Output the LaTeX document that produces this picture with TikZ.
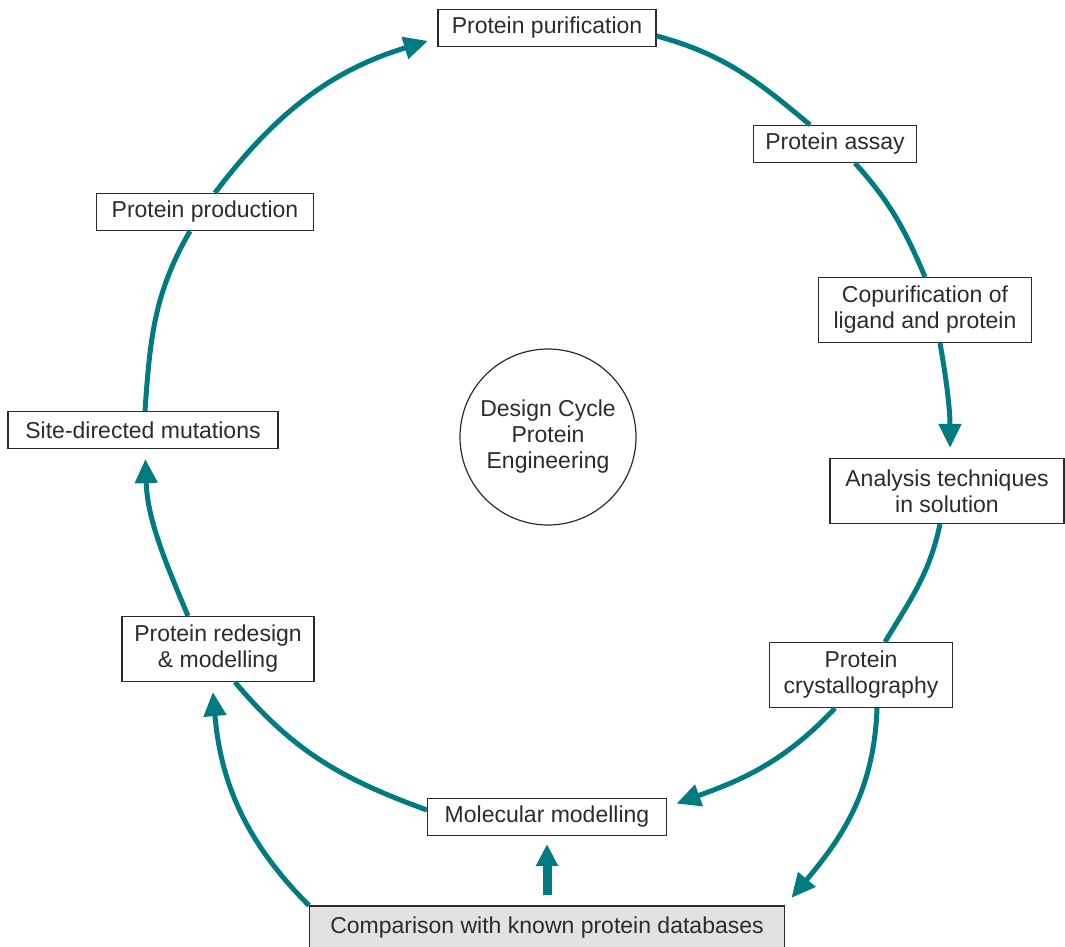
\documentclass[tikz,border=0pt]{standalone}
\usepackage{fontspec}
\setmainfont{Liberation Sans}
\usetikzlibrary{arrows.meta,calc}

\definecolor{cycteal}{HTML}{007B82}
\definecolor{boxgray}{HTML}{E2E2E2}
\definecolor{inkgray}{HTML}{2B2B2B}

\begin{document}
\begin{tikzpicture}[x=0.5pt, y=0.5pt,
  every node/.style={font=\fontsize{11.5}{13}\selectfont, text=inkgray},
  block/.style={rectangle, draw=inkgray, line width=0.6pt, align=center,
                inner xsep=6pt, inner ysep=3pt, minimum height=18.5pt},
  twoline/.style={block, minimum height=32.5pt},
  link/.style={cycteal, line width=2.5pt},
  arrow/.style={link, -{Triangle[length=12pt, width=11pt]}, shorten >=5pt}]
  \useasboundingbox (0,0) rectangle (1065,-947);
  % centre of the cycle
  \node[circle, draw=inkgray, line width=0.6pt, minimum size=88pt, inner sep=0pt, align=center]
    (cycle) at (548,-437) {Design Cycle\\Protein\\Engineering};
  % steps round the cycle
  \node[block, minimum width=109pt] (purif) at (547,-28) {Protein purification};
  \node[block, minimum width=80.5pt] (assay) at (835,-144) {Protein assay};
  \node[twoline, minimum width=106.5pt] (copur) at (925,-310) {Copurification of\\ligand and protein};
  \node[twoline, minimum width=117pt] (anal) at (947,-491) {Analysis techniques\\in solution};
  \node[twoline, minimum width=91.5pt] (cryst) at (861,-675) {Protein\\crystallography};
  \node[block, minimum width=119.5pt] (molmod) at (547,-817) {Molecular modelling};
  \node[block, fill=boxgray, minimum width=237.5pt, minimum height=22pt]
    (comp) at (547,-928) {Comparison with known protein databases};
  \node[twoline, minimum width=96pt] (redes) at (218,-649) {Protein redesign\\\& modelling};
  \node[block, minimum width=135pt] (site) at (143,-430) {Site-directed mutations};
  \node[block, minimum width=108.5pt] (prod) at (205,-212) {Protein production};
  % connectors
  \draw[arrow] ($(prod.north)+(10,0)$) to[out=53, in=197] ($(purif.west)+(0,-10)$);
  \draw[link] ($(purif.east)+(0,-8)$) to[out=-15, in=140] ($(assay.north)+(-25,0)$);
  \draw[link] ($(assay.south)+(20,0)$) to[out=-48, in=113] (copur.north);
  \draw[arrow] ($(copur.south)+(15,0)$) to[out=-80, in=90] ($(anal.north)+(3,0)$);
  \draw[link] ($(anal.south)+(-7,0)$) to[out=-102, in=59] ($(cryst.north)+(24,0)$);
  \draw[arrow] ($(cryst.south)+(-26,0)$) to[out=-133, in=20] ($(molmod.east)+(0,10)$);
  \draw[arrow] ($(cryst.south)+(16,0)$) to[out=-92, in=50] (comp.north east);
  \draw[link] ($(molmod.west)+(0,7)$) to[out=160, in=-50] ($(redes.south)+(17,0)$);
  \draw[arrow] ($(redes.north)+(-30,0)$) to[out=113, in=-88] ($(site.south)+(2,0)$);
  \draw[link] ($(site.north)+(2,0)$) to[out=86, in=-120] ($(prod.south)+(-15,0)$);
  \draw[arrow] (comp.north west) to[out=135, in=-85] ($(redes.south)+(-6,0)$);
  \draw[cycteal, line width=4.5pt, -{Triangle[length=11pt, width=10.5pt]},
        shorten <=5pt, shorten >=4pt] (comp.north) -- (molmod.south);
\end{tikzpicture}
\end{document}
